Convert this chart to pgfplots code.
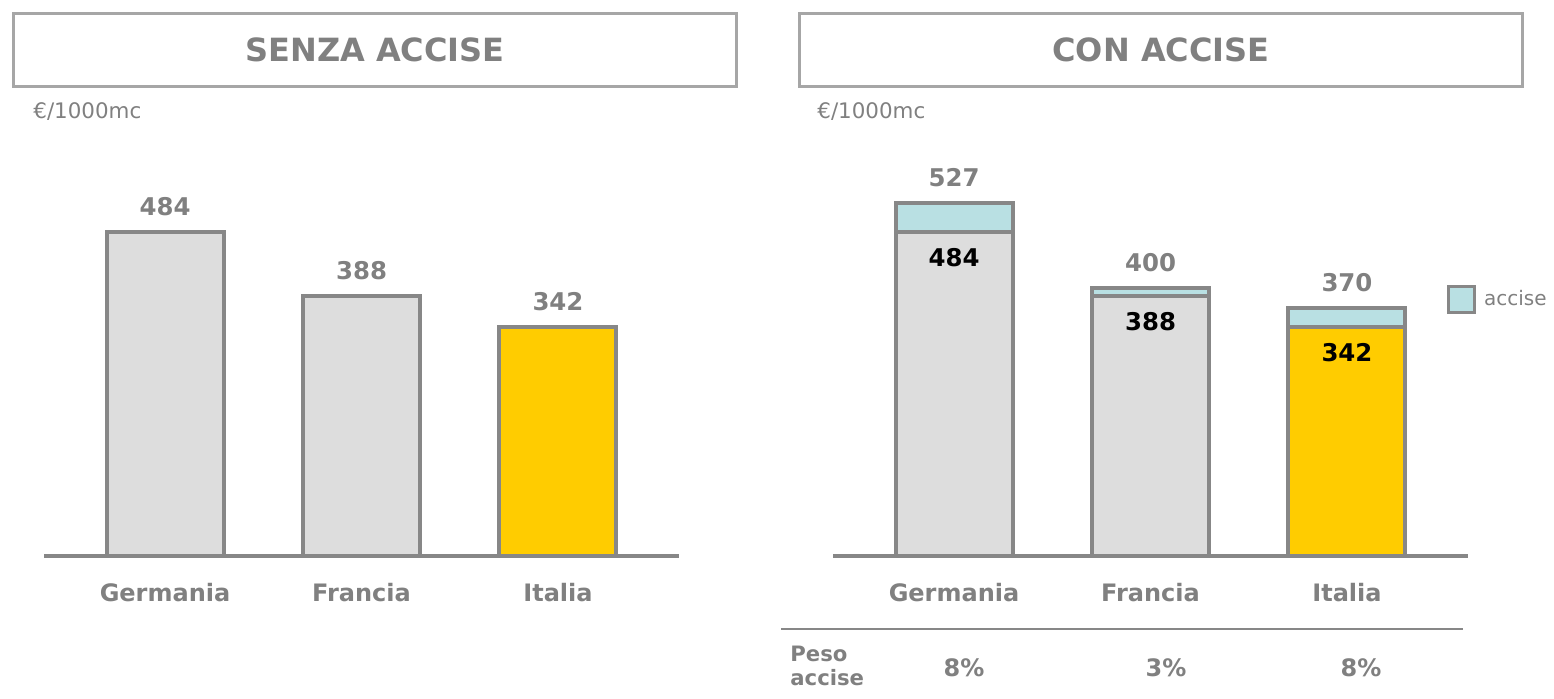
\documentclass[border=0pt]{standalone}
\usepackage{fontspec}
\setmainfont{DejaVu Sans}
\usepackage{pgfplots}
\pgfplotsset{compat=1.18}
\definecolor{txtgray}{HTML}{808080}
\definecolor{linegray}{HTML}{878787}
\definecolor{boxgray}{HTML}{A6A6A6}
\definecolor{barfill}{HTML}{DDDDDD}
\definecolor{ityellow}{HTML}{FFCC00}
\definecolor{accisec}{HTML}{B9E0E3}
\pgfplotsset{
 mybars/.style={
  scale only axis, width=317.5pt, height=200.7pt,
  xmin=-0.616, xmax=2.616, ymin=0, ymax=600,
  axis x line=bottom, axis y line=none,
  axis line style={draw=linegray, line width=1.6pt, -},
  xtick={0,1,2}, xticklabels={Germania,Francia,Italia},
  xtick style={draw=none},
  xticklabel style={font=\fontsize{12}{14}\selectfont\bfseries, text=txtgray, anchor=center, yshift=-14pt},
  ytick=\empty,
  ybar, bar width=58.5pt,
  clip=false,
  /pgf/number format/assume math mode=true,
 },
 barsty/.style={draw=linegray, line width=2pt, fill=#1, bar shift=0pt},
 toplab/.style={nodes near coords, every node near coord/.append style={anchor=center, yshift=13pt, font=\fontsize{12.2}{14}\selectfont\bfseries, text=txtgray}},
 inlab/.style={nodes near coords, every node near coord/.append style={anchor=center, yshift=-12.5pt, font=\fontsize{12.2}{14}\selectfont\bfseries, text=black}},
}
\begin{document}
\begin{tikzpicture}
\path[use as bounding box] (0,0) rectangle (777pt,349.5pt);
% titles
\node[draw=boxgray, line width=1.5pt, minimum width=361.5pt, minimum height=36.5pt, font=\fontsize{16}{19}\selectfont\bfseries, text=txtgray] at (187.5pt,324.5pt) {SENZA ACCISE};
\node[draw=boxgray, line width=1.5pt, minimum width=361.5pt, minimum height=36.5pt, font=\fontsize{16}{19}\selectfont\bfseries, text=txtgray] at (580.5pt,324.5pt) {CON ACCISE};
\node[anchor=west, inner sep=0pt, font=\fontsize{10.7}{12}\selectfont, text=txtgray] at (16.5pt,293.5pt) {€/1000mc};
\node[anchor=west, inner sep=0pt, font=\fontsize{10.7}{12}\selectfont, text=txtgray] at (408.5pt,293.5pt) {€/1000mc};

\begin{axis}[mybars, at={(22pt,71.5pt)}, anchor=south west]
\addplot[barsty=barfill, toplab] coordinates {(0,484) (1,388)};
\addplot[barsty=ityellow, toplab] coordinates {(2,342)};
\end{axis}

\begin{axis}[mybars, at={(416.5pt,71.5pt)}, anchor=south west,
  legend style={at={(0.966,0.64)}, anchor=west, draw=none, fill=none, inner sep=0pt,
    font=\fontsize{10}{12}\selectfont, text=txtgray,
    /tikz/every odd column/.append style={column sep=2pt}}]
\addplot[barsty=accisec, toplab,
  legend image code/.code={\draw[draw=linegray, line width=1.6pt, fill=accisec] (0pt,-6.5pt) rectangle (13pt,6.5pt);}]
  coordinates {(0,527) (1,400) (2,370)};
\addlegendentry{accise}
\addplot[barsty=barfill, inlab, forget plot] coordinates {(0,484) (1,388)};
\addplot[barsty=ityellow, inlab, forget plot] coordinates {(2,342)};
\end{axis}

% bottom table
\draw[linegray, line width=1pt] (390.5pt,35pt) -- (731.5pt,35pt);
\node[anchor=west, inner sep=0pt, align=left, font=\fontsize{10.6}{12}\selectfont\bfseries, text=txtgray] at (395pt,16.5pt) {Peso\\accise};
\node[font=\fontsize{12}{14}\selectfont\bfseries, text=txtgray] at (482pt,15.5pt) {8\%};
\node[font=\fontsize{12}{14}\selectfont\bfseries, text=txtgray] at (583pt,15.5pt) {3\%};
\node[font=\fontsize{12}{14}\selectfont\bfseries, text=txtgray] at (680.5pt,15.5pt) {8\%};
\end{tikzpicture}
\end{document}
